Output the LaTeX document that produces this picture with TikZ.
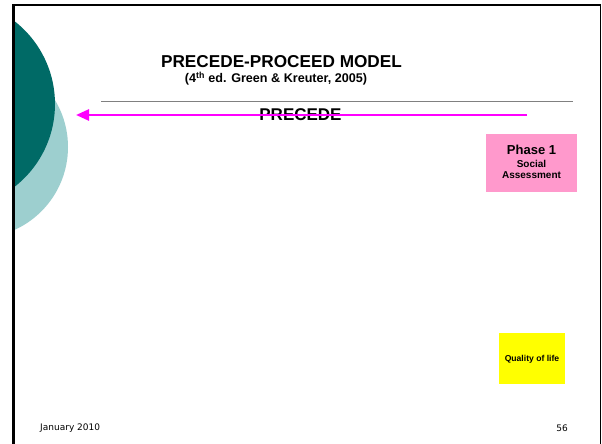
\documentclass[tikz,border=0pt]{standalone}
\usepackage{fontspec}
\setmainfont{Liberation Sans}
\newfontfamily\footfont{DejaVu Sans}
\usetikzlibrary{arrows.meta}
\definecolor{tealdark}{HTML}{006A66}
\definecolor{teallight}{HTML}{9DCFCF}
\definecolor{arrowpink}{HTML}{FF00FF}
\definecolor{phasepink}{HTML}{FF99CC}
\definecolor{lifeyellow}{HTML}{FFFF00}
\definecolor{rulegray}{HTML}{808080}
\begin{document}
\begin{tikzpicture}[x=1pt,y=-1pt,
  txt/.style={inner sep=0pt, anchor=base},
  heading/.style={txt, font=\bfseries\fontsize{17.2}{19}\selectfont},
  subheading/.style={txt, font=\bfseries\fontsize{12.6}{14}\selectfont},
  phasebox/.style={fill=phasepink, minimum width=91pt, minimum height=58pt, inner sep=0pt},
  lifebox/.style={fill=lifeyellow, minimum width=66pt, minimum height=51pt, inner sep=0pt},
  footer/.style={font=\footfont\fontsize{9}{10}\selectfont, inner sep=0pt},
  bigarrow/.style={draw=arrowpink, line width=2.6pt, -{Triangle[length=13pt, width=11pt]}}
]
\useasboundingbox (0,0) rectangle (602,444);
\fill[white] (0,0) rectangle (602,444);

% decorative circles on the left margin
\begin{scope}
  \clip (14,0) rectangle (602,444);
  \fill[teallight] (-23,147) circle (91);
  \fill[tealdark] (-50,104) circle (105);
\end{scope}

% slide frame
\draw[line width=3pt] (13.5,444) -- (13.5,5);
\draw[line width=2pt] (12,5) -- (601,5);
\draw[line width=1.5pt] (600.3,4) -- (600.3,444);

% titles
\node[heading] (title) at (281.5,67) {PRECEDE-PROCEED MODEL};
\node[subheading] (subtitle) at (276,82.5) {(4\textsuperscript{th} ed. Green \& Kreuter, 2005)};
\draw[rulegray, line width=1pt] (101,101) coordinate (ruleL) -- (573,101) coordinate (ruleR);

% PRECEDE direction arrow
\node[txt, font=\bfseries\fontsize{17}{18}\selectfont] (precede) at (300.5,120.5) {PRECEDE};
\coordinate (arrowstart) at (527,115);
\coordinate (arrowend) at (76,115);
\draw[bigarrow] (arrowstart) -- (arrowend);

% phase boxes
\node[phasebox] (phase1) at (531.5,163) {};
\node[txt, font=\bfseries\fontsize{13}{14}\selectfont] (phase1title) at (531.5,154.5) {Phase 1};
\node[txt, font=\bfseries\fontsize{10}{11}\selectfont] (phase1a) at (531.5,167) {Social};
\node[txt, font=\bfseries\fontsize{10}{11}\selectfont] (phase1b) at (531.5,178.5) {Assessment};

\node[lifebox] (life) at (532,358.5) {};
\node[txt, font=\bfseries\fontsize{8.6}{10}\selectfont] (lifetext) at (532,361.5) {Quality of life};

% footer
\node[footer, anchor=west] (date) at (40,428) {January 2010};
\node[footer, anchor=east] (page) at (568,428) {56};
\end{tikzpicture}
\end{document}
